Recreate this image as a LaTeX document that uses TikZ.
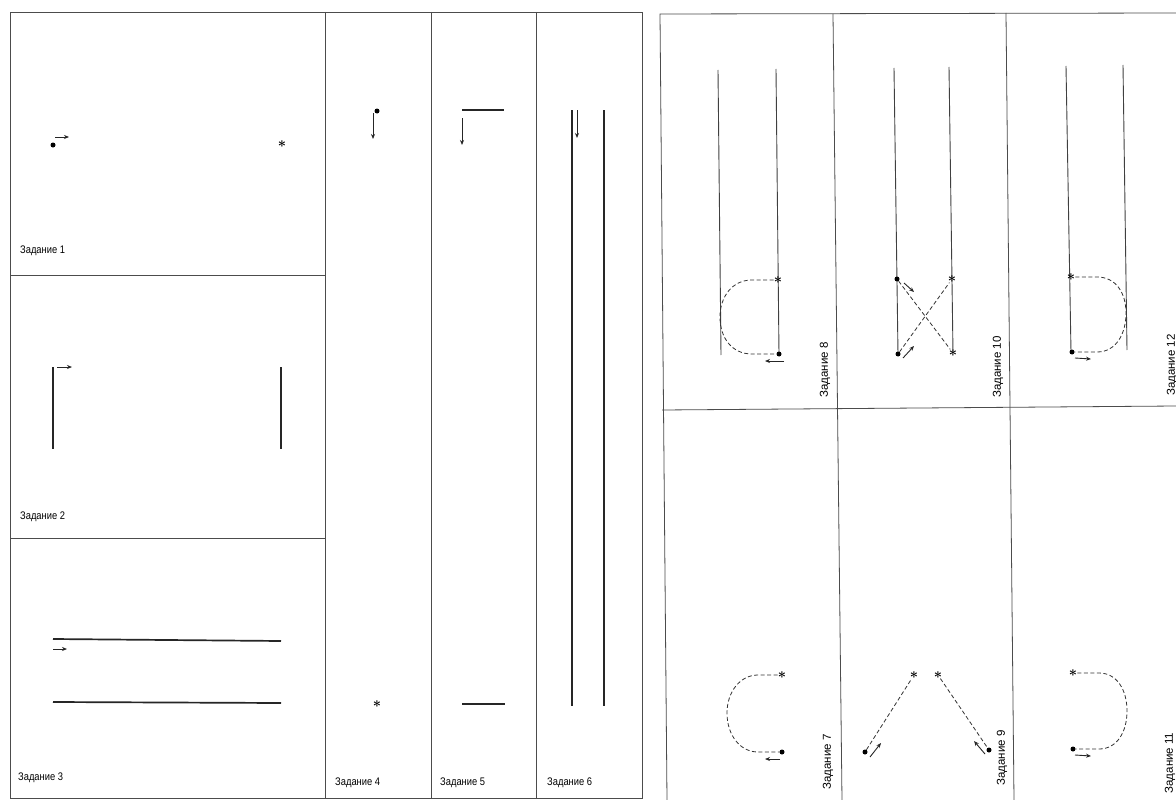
\documentclass[tikz,border=0pt]{standalone}
\usepackage{fontspec}
\setmainfont{Liberation Sans}
\newfontfamily\narrowfont[FakeStretch=0.85]{Liberation Sans}
\usetikzlibrary{arrows.meta,calc,positioning}

\begin{document}
\begin{tikzpicture}[x=1pt,y=-1pt,
  frame/.style={draw=black!70,line width=0.8pt},
  track/.style={line width=1.7pt,black!85},
  lane/.style={line width=0.9pt,black!75},
  route/.style={dash pattern=on 4pt off 2.5pt,line width=0.8pt,black!80},
  move/.style={-{Stealth[length=5pt,width=4pt]},line width=0.9pt,black!85},
  startpt/.style={circle,fill=black,inner sep=0pt,minimum size=5pt},
  endpt/.style={inner sep=0pt,font=\Large\boldmath},
  tasklbl/.style={font=\narrowfont\fontsize{11}{11}\selectfont,anchor=west,inner sep=0pt},
  tasklblr/.style={font=\fontsize{11.5}{11.5}\selectfont,rotate=90,inner sep=0pt}]

\useasboundingbox (0,0) rectangle (1176,800);
\fill[white] (0,0) rectangle (1176,800);

% left sheet
\draw[frame] (10,12) rectangle (642,798);
\foreach \xx in {325,431,536}
  \draw[frame] (\xx,12) -- (\xx,798);
\draw[frame] (10,275) -- (325,275);
\draw[frame] (10,538) -- (325,538);

% task 1
\node[startpt] (s1) at (53,145) {};
\node[endpt] (e1) at (282,144) {$\ast$};
\draw[move] ($(s1)+(2,-8)$) -- ++(14,0);
\node[tasklbl] (t1) at (20,251) {Задание 1};

% task 2
\draw[track] (53,367) -- (53,449);
\draw[track] (281,367) -- (281,449);
\draw[move] (57,367) -- ++(15,0);
\node[tasklbl] (t2) at (20,517) {Задание 2};

% task 3
\draw[track] (53,639) -- (281,641);
\draw[track] (53,702) -- (281,703);
\draw[move] (53,649) -- ++(14,0);
\node[tasklbl] (t3) at (18,778) {Задание 3};

% task 4
\node[startpt] (s4) at (377,111) {};
\node[endpt] (e4) at (377,704) {$\ast$};
\draw[move] ($(s4)+(-4,2)$) -- ++(0,26);
\node[tasklbl] (t4) at (335,783) {Задание 4};

% task 5
\draw[track] (462,110) -- (504,110);
\draw[track] (462,704) -- (505,704);
\draw[move] (462,118) -- ++(0,27);
\node[tasklbl] (t5) at (440,783) {Задание 5};

% task 6
\draw[track] (572,110) -- (572,706);
\draw[track] (604,110) -- (604,706);
\draw[move] (577,110) -- ++(0,28);
\node[tasklbl] (t6) at (547,783) {Задание 6};

% right sheet
\draw[frame] (1176,13) -- (660,14) -- (667,800);
\draw[frame] (833,14) -- (842,800);
\draw[frame] (1006,13) -- (1014,800);
\draw[frame] (662,410) -- (1176,406);

% task 8
\draw[lane] (718,70) -- (721,355);
\draw[lane] (776,69) -- (779,354);
\node[startpt] (s8) at (779,354) {};
\node[endpt] (e8) at (778,280) {$\ast$};
\draw[route] (e8) -- (752,280) .. controls (732,280) and (720,297) .. (720,317)
  .. controls (720,338) and (732,354) .. (752,354) -- (s8);
\draw[move] ($(s8)+(5,7)$) -- ++(-19,0);
\node[tasklblr] (t8) at (825,370) {Задание 8};

% task 10
\draw[lane] (894,68) -- (898,354);
\draw[lane] (949,67) -- (953,353);
\node[startpt] (s10a) at (897,279) {};
\node[startpt] (s10b) at (898,354) {};
\node[endpt] (e10a) at (952,279) {$\ast$};
\node[endpt] (e10b) at (953,353) {$\ast$};
\draw[route] (s10a) -- (e10b);
\draw[route] (s10b) -- (e10a);
\draw[move] ($(s10a)+(7,4)$) -- ++(10,9);
\draw[move] ($(s10b)+(5,4)$) -- ++(11,-12);
\node[tasklblr] (t10) at (998,367) {Задание 10};

% task 12
\draw[lane] (1066,66) -- (1071,352);
\draw[lane] (1123,65) -- (1127,350);
\node[startpt] (s12) at (1072,352) {};
\node[endpt] (e12) at (1071,277) {$\ast$};
\draw[route] (e12) -- (1097,277) .. controls (1116,277) and (1126,293) .. (1126,313)
  .. controls (1126,334) and (1116,352) .. (1097,352) -- (s12);
\draw[move] ($(s12)+(3,6)$) -- ++(16,1);
\node[tasklblr] (t12) at (1172,365) {Задание 12};

% task 7
\node[startpt] (s7) at (782,752) {};
\node[endpt] (e7) at (782,675) {$\ast$};
\draw[route] (e7) -- (758,675) .. controls (740,675) and (727,692) .. (727,713)
  .. controls (727,735) and (740,752) .. (758,752) -- (s7);
\draw[move] ($(s7)+(-2,7)$) -- ++(-15,0);
\node[tasklblr] (t7) at (828,762) {Задание 7};

% task 9
\node[startpt] (s9a) at (865,752) {};
\node[endpt] (e9a) at (914,675) {$\ast$};
\node[endpt] (e9b) at (938,675) {$\ast$};
\node[startpt] (s9b) at (989,750) {};
\draw[route] (s9a) -- (e9a);
\draw[route] (e9b) -- (s9b);
\draw[move] ($(s9a)+(5,5)$) -- ++(11,-14);
\draw[move] ($(s9b)+(-4,4)$) -- ++(-11,-13);
\node[tasklblr] (t9) at (1002,758) {Задание 9};

% task 11
\node[startpt] (s11) at (1073,749) {};
\node[endpt] (e11) at (1073,673) {$\ast$};
\draw[route] (e11) -- (1099,673) .. controls (1117,673) and (1127,690) .. (1127,711)
  .. controls (1127,732) and (1117,749) .. (1099,749) -- (s11);
\draw[move] ($(s11)+(2,6)$) -- ++(16,1);
\node[tasklblr] (t11) at (1170,763) {Задание 11};
\end{tikzpicture}
\end{document}
